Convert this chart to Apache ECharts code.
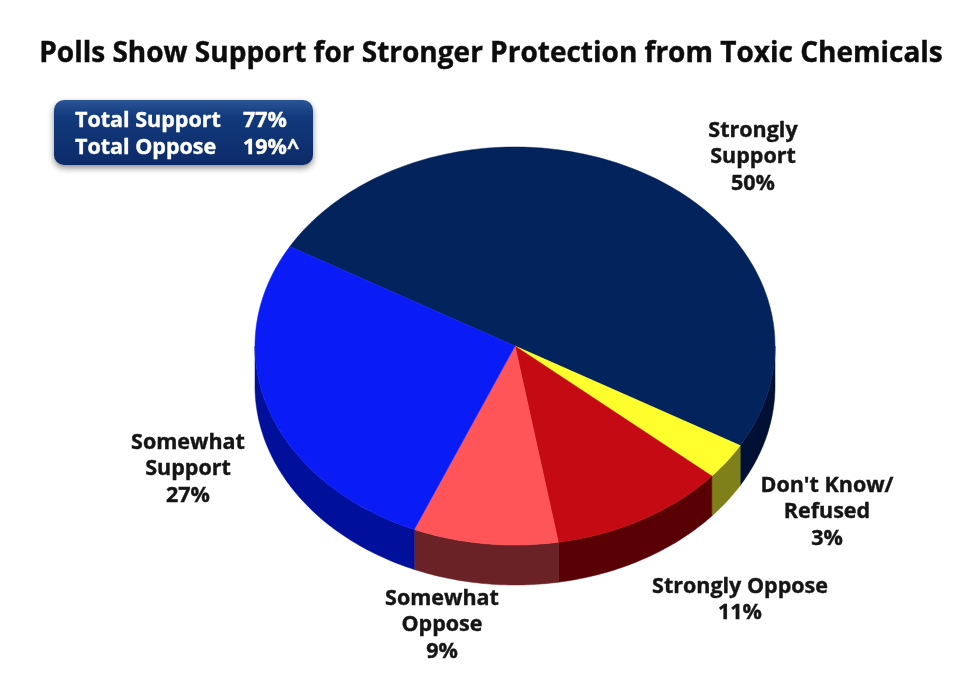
<!DOCTYPE html>
<html>
<head>
<meta charset="utf-8">
<style>html,body{margin:0;padding:0;background:#fff}#c{width:980px;height:686px}</style>
<script src="https://cdn.jsdelivr.net/npm/echarts@6/dist/echarts.min.js"></script>
</head>
<body>
<div id="c"></div>
<script>
const categories = ['Strongly\nSupport', "Don't Know/\nRefused", 'Strongly Oppose', 'Somewhat\nOppose', 'Somewhat\nSupport'];
const values = [50, 3, 11, 9, 27];
const topColors = ['#03235c', '#ffff2e', '#c40b14', '#ff5558', '#0a1cf5'];
const sideColors = ['#001034', '#80801a', '#590005', '#6b2226', '#00109a'];
const titleText = 'Polls Show Support for Stronger Protection from Toxic Chemicals';
const summaryNames = ['Total Support', 'Total Oppose'];
const summaryValues = ['77%', '19%^'];

const pie = { cx: 515, cy: 346, rx: 260, ry: 199, depth: 40, startAngle: -60 };
const labelAnchors = [[753, 157], [827, 512], [740, 600], [442, 625], [188, 469]];
const FONT = '"Open Sans", "Noto Sans", sans-serif';

const total = values.reduce((a, b) => a + b, 0);
function pt(a, dy) {
  const r = a * Math.PI / 180;
  return [pie.cx + pie.rx * Math.sin(r), pie.cy - pie.ry * Math.cos(r) + (dy || 0)];
}
function arc(a0, a1, dy) {
  const n = Math.max(2, Math.ceil(Math.abs(a1 - a0)));
  const out = [];
  for (let i = 0; i <= n; i++) out.push(pt(a0 + (a1 - a0) * i / n, dy));
  return out;
}
function renderSlice(params, api) {
  const i = params.dataIndex;
  let before = 0;
  for (let k = 0; k < i; k++) before += values[k];
  const a0 = pie.startAngle + before / total * 360;
  const a1 = a0 + api.value(0) / total * 360;
  const children = [];
  const s0 = Math.max(a0, 90), s1 = Math.min(a1, 270);
  if (s1 > s0) {
    children.push({
      type: 'polygon',
      shape: { points: arc(s0, s1, 0).concat(arc(s1, s0, pie.depth)) },
      style: { fill: sideColors[i], stroke: sideColors[i], lineWidth: 0.5 }
    });
  }
  children.push({
    type: 'polygon',
    shape: { points: [[pie.cx, pie.cy]].concat(arc(a0, a1, 0)) },
    style: { fill: topColors[i], stroke: topColors[i], lineWidth: 0.5 }
  });
  return { type: 'group', children };
}

const labelGraphics = categories.map((c, i) => ({
  type: 'text', x: labelAnchors[i][0], y: labelAnchors[i][1],
  style: {
    text: c + '\n' + values[i] + '%',
    fill: '#151515', font: 'bold 21.5px ' + FONT, lineHeight: 26.5,
    align: 'center', verticalAlign: 'middle',
    stroke: '#151515', lineWidth: 0.4
  }
}));

const summaryGraphics = [{
  type: 'rect', shape: { x: 54, y: 100, width: 259, height: 65, r: 10 },
  style: {
    fill: { type: 'linear', x: 0, y: 0, x2: 0, y2: 1, colorStops: [
      { offset: 0, color: '#2a5596' }, { offset: 0.25, color: '#123a7c' }, { offset: 1, color: '#0c2a68' }] },
    shadowBlur: 6, shadowColor: 'rgba(0,0,0,0.45)', shadowOffsetY: 3
  }
}];
summaryNames.forEach((n, i) => {
  const y = 121 + i * 27;
  const common = { fill: '#fff', stroke: '#fff', lineWidth: 0.4, font: 'bold 21.5px ' + FONT, align: 'left', verticalAlign: 'middle' };
  summaryGraphics.push({ type: 'text', x: 75, y, style: Object.assign({ text: n }, common) });
  summaryGraphics.push({ type: 'text', x: 243, y, style: Object.assign({ text: summaryValues[i] }, common) });
});

const chart = echarts.init(document.getElementById('c'));
chart.setOption({
  animation: false,
  backgroundColor: '#fff',
  title: {
    text: titleText, left: 486, top: 35, textAlign: 'center',
    textStyle: { fontFamily: FONT, fontWeight: 'bold', fontSize: 28, color: '#0c0c0c', textBorderColor: '#0c0c0c', textBorderWidth: 0.4 }
  },
  series: [{
    type: 'custom', coordinateSystem: 'none', renderItem: renderSlice,
    data: values.map((v, i) => ({ name: categories[i], value: [v] })), silent: true
  }],
  graphic: summaryGraphics.concat(labelGraphics)
});
</script>
</body>
</html>
